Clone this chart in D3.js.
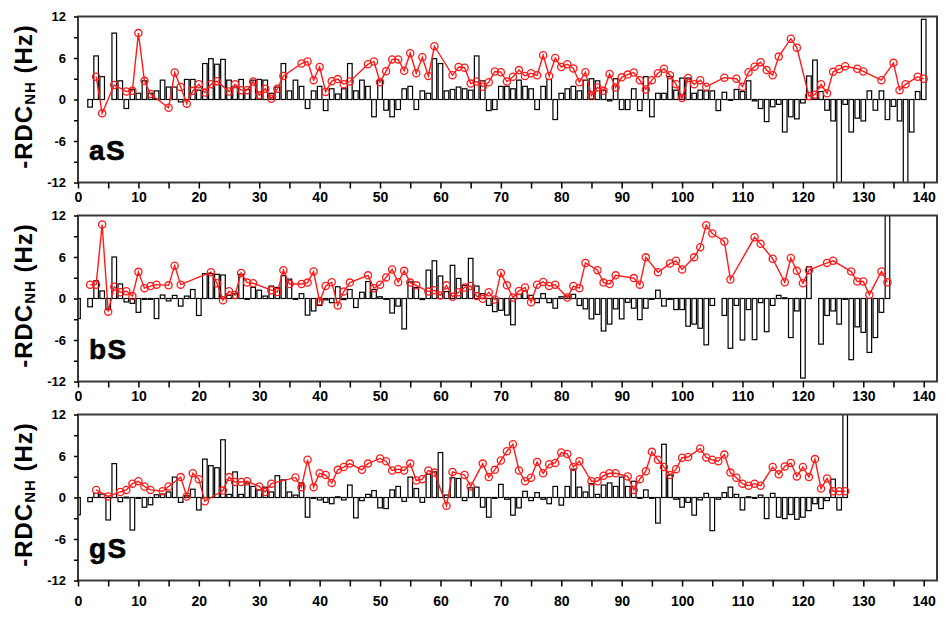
<!DOCTYPE html>
<html><head><meta charset="utf-8">
<script src="https://cdn.jsdelivr.net/npm/d3@7/dist/d3.min.js"></script>
<style>body{margin:0;background:#fff}svg{display:block}text{font-family:"Liberation Sans",Arial,sans-serif}</style>
</head><body>
<svg id="c" width="948" height="620"></svg>
<script>
// ---------- DATA (residue -> value) ----------
const panelNames = ["aS", "bS", "gS"];
const xTicks = [0,10,20,30,40,50,60,70,80,90,100,110,120,130,140];
const yTicks = [-12,-6,0,6,12];

const aS_bars = [[2,-1.1],[3,6.3],[4,3.3],[6,9.6],[7,2.7],[8,-1.3],[9,1.45],[10,0.9],[11,2.7],[12,0.9],[13,1.25],[14,2.8],[15,1.8],[16,1.8],[17,-0.35],[18,2.9],[19,2.9],[20,1.35],[21,5.2],[22,5.9],[23,5.1],[24,5.8],[25,2.8],[26,1.8],[27,2.9],[28,1.45],[29,2.8],[30,2.9],[31,2.8],[32,0.9],[33,1.8],[34,5.2],[35,1.25],[36,2.8],[37,1.9],[38,-1.3],[39,1.25],[40,1.9],[41,-1.6],[42,1.55],[43,0.8],[44,1.55],[45,5.2],[46,1.25],[47,2.8],[48,1.9],[49,-2.5],[50,2.8],[51,-1.55],[52,-2.5],[53,-1.45],[54,1.55],[55,1.9],[56,-1.45],[57,1.25],[58,0.9],[59,5.9],[60,5.2],[61,1.25],[62,1.45],[63,1.8],[64,1.55],[65,1.35],[66,6.3],[67,2.7],[68,-1.6],[69,-1.45],[70,1.9],[71,1.9],[72,1.55],[73,2.8],[74,1.9],[75,1.55],[76,-1.45],[77,1.9],[78,2.9],[79,-2.9],[80,0.9],[81,1.55],[82,1.9],[83,1.25],[84,2.8],[85,3.0],[86,2.7],[87,1.35],[88,-0.2],[89,3.0],[90,-1.45],[91,-1.45],[92,1.55],[93,-1.6],[94,3.3],[95,-2.5],[96,0.9],[97,0.9],[98,3.3],[99,1.35],[100,3.1],[101,3.1],[102,0.9],[103,1.35],[104,1.25],[105,1.25],[106,-1.6],[107,1.05],[108,0],[109,1.45],[110,1.15],[111,2.7],[112,-0.2],[113,-1.3],[114,-3.2],[115,-1.05],[116,-0.7],[117,-4.7],[118,-2.5],[119,-2.8],[120,-0.5],[121,3.4],[122,5.7],[123,1.15],[124,-1.55],[125,-3.1],[126,-12.5],[127,-0.7],[128,-4.7],[129,-2.7],[130,-3.1],[131,1.25],[132,-1.55],[133,1.25],[134,-2.9],[135,-1.0],[136,-3.1],[137,-12.5],[138,-4.7],[139,1.15],[140,11.6]];
const aS_line = [[3,3.3],[4,-2.0],[6,2.1],[8,1.15],[9,1.25],[10,9.6],[11,2.7],[12,0.8],[15,-1.2],[16,3.9],[17,1.8],[18,-0.6],[19,1.25],[20,2.2],[21,1.0],[22,2.2],[23,2.65],[25,1.15],[26,2.2],[27,1.35],[28,1.35],[29,2.6],[30,0.6],[31,1.55],[32,0.1],[33,1.55],[34,3.4],[37,5.2],[38,5.5],[39,2.8],[40,4.7],[41,1.1],[42,2.65],[43,2.95],[44,2.2],[45,2.6],[48,5.1],[49,5.5],[50,2.5],[51,4.1],[52,5.8],[53,5.8],[54,4.15],[55,6.7],[56,3.8],[57,6.1],[58,3.4],[59,7.7],[62,3.5],[63,4.7],[64,4.6],[65,2.3],[66,2.6],[67,1.85],[68,2.5],[69,4.05],[70,3.95],[71,2.6],[72,3.3],[73,4.25],[74,3.4],[75,3.8],[76,3.5],[77,6.4],[78,3.4],[79,6.0],[80,4.7],[81,5.1],[82,4.5],[83,2.5],[84,3.95],[85,0.6],[86,1.75],[87,1.25],[88,3.7],[89,1.75],[90,3.2],[91,3.6],[92,3.9],[93,2.8],[94,1.45],[95,2.8],[96,3.8],[97,4.45],[98,3.5],[99,2.2],[100,0.2],[101,3.1],[102,2.2],[103,2.8],[104,1.85],[107,3.15],[109,3.0],[110,1.85],[111,3.95],[112,4.75],[113,5.4],[114,4.25],[115,3.5],[116,6.2],[118,8.8],[119,7.5],[121,0.5],[122,0.7],[123,2.2],[124,0.9],[125,4.0],[126,4.4],[127,4.8],[129,4.45],[130,4.05],[133,2.8],[135,5.3],[136,1.35],[137,2.2],[139,3.3],[140,3.0]];

const bS_bars = [[0,-2.9],[2,-1.2],[3,2.55],[4,1.1],[5,-1.6],[6,6.0],[7,2.1],[8,-0.5],[9,-0.7],[10,-2.0],[11,0],[12,0],[13,-2.9],[14,0.5],[15,-0.35],[16,0.45],[17,-1.1],[18,0.35],[19,1.3],[20,-2.45],[21,3.6],[22,3.6],[23,3.5],[24,3.4],[25,0.45],[26,0.7],[27,3.5],[28,0],[29,1.6],[30,1.2],[31,0.35],[32,1.8],[33,1.6],[34,3.3],[35,2.8],[36,0],[37,0.7],[38,-2.4],[39,-1.8],[40,-1.0],[41,-0.2],[42,-0.6],[43,1.7],[44,-0.15],[45,1.3],[46,-1.3],[47,0.9],[48,2.45],[49,1.3],[50,0.25],[51,0],[52,-2.1],[53,-1.1],[54,-4.4],[55,2.4],[56,1.6],[57,-0.15],[58,4.1],[59,5.45],[60,3.25],[61,1.0],[62,4.8],[63,2.9],[64,1.9],[65,5.8],[66,1.8],[67,0.7],[68,-1.0],[69,-1.9],[70,-1.7],[71,-2.4],[72,-3.8],[73,0.6],[74,1.1],[75,0.45],[76,-0.6],[77,0.7],[78,-0.6],[79,-1.4],[80,0.25],[81,0.35],[82,0.6],[83,-1.0],[84,-1.5],[85,-2.95],[86,-2.3],[87,-4.7],[88,-3.7],[89,-1.5],[90,-2.95],[91,-0.55],[92,-1.4],[93,-3.05],[94,-1.4],[95,-0.1],[96,1.2],[97,-1.1],[98,-0.1],[99,-1.6],[100,-1.6],[101,-4.0],[102,-3.7],[103,-4.3],[104,-6.7],[105,-1.0],[107,-2.45],[108,-7.2],[109,-1.0],[110,-6.0],[111,-1.6],[112,-5.95],[113,-0.6],[114,-4.8],[115,-1.0],[116,0.45],[117,0.1],[118,-5.65],[119,-1.8],[120,-11.5],[121,4.6],[123,-6.6],[124,-2.45],[125,-1.8],[126,-3.7],[127,0],[128,-8.85],[129,-4.1],[130,-4.9],[131,-7.8],[132,-5.65],[133,-2.0],[134,12.5]];
const bS_line = [[2,2.0],[3,2.0],[4,10.7],[5,-1.9],[6,1.7],[7,0.9],[8,1.05],[9,0.35],[10,3.85],[11,1.5],[12,1.8],[13,2.0],[15,1.9],[16,4.75],[17,2.0],[22,3.8],[23,2.2],[24,-0.25],[25,1.05],[26,0.5],[27,3.7],[28,2.3],[29,2.2],[32,1.2],[33,0.95],[34,4.1],[35,2.1],[37,2.1],[38,2.3],[39,3.9],[40,-0.4],[41,1.8],[42,2.35],[43,-1.0],[44,1.0],[45,2.3],[48,3.35],[49,1.5],[50,2.0],[51,3.05],[52,4.2],[53,2.35],[54,4.0],[55,2.3],[56,1.9],[58,1.0],[59,1.2],[60,0.45],[61,1.9],[62,0.25],[63,0.9],[64,1.6],[65,1.8],[66,0.35],[67,-0.05],[68,0.9],[69,-0.15],[70,3.7],[71,1.9],[72,0.15],[73,1.1],[74,1.6],[75,-0.55],[76,2.0],[77,2.4],[78,1.8],[79,2.0],[81,0.15],[82,1.8],[83,1.5],[84,5.15],[86,4.1],[87,2.3],[88,2.1],[89,3.35],[92,2.95],[93,2.0],[94,5.95],[96,3.8],[98,5.05],[99,5.45],[100,4.2],[102,5.95],[103,7.4],[104,10.6],[105,9.4],[107,8.25],[108,2.75],[112,8.85],[113,7.9],[115,5.75],[117,2.35],[118,5.85],[119,4.0],[120,2.2],[121,4.1],[124,5.15],[125,5.45],[128,3.9],[129,2.45],[130,2.45],[131,0.55],[133,3.9],[134,2.35]];

const gS_bars = [[0,-2.5],[2,-0.6],[3,0.6],[4,0.5],[5,-3.25],[6,4.9],[7,-0.6],[8,0.05],[9,-4.7],[10,0],[11,-1.4],[12,-1.05],[13,0.4],[14,0.5],[15,0.8],[16,2.95],[17,-0.7],[18,0.25],[19,1.2],[20,-1.8],[21,5.55],[22,4.6],[23,4.3],[24,8.35],[25,0.45],[26,3.7],[27,0.45],[28,2.1],[29,1.6],[30,1.1],[31,1.5],[32,0.8],[33,3.15],[34,2.55],[35,0.8],[36,0.35],[37,2.1],[38,-2.85],[39,0],[40,-0.35],[41,-0.7],[42,-0.9],[43,0.1],[44,-0.35],[45,1.8],[46,-2.95],[47,-0.45],[48,0.45],[49,1.0],[50,-1.5],[51,-1.6],[52,1.1],[53,1.6],[54,-0.55],[55,2.95],[56,1.3],[57,-0.7],[58,3.35],[59,3.7],[60,6.5],[61,0.35],[62,2.85],[63,2.75],[64,-0.45],[65,1.4],[66,1.5],[67,-1.4],[68,-2.85],[69,-0.1],[70,1.9],[71,-0.25],[72,-2.55],[73,-1.5],[74,0.9],[75,-0.45],[76,0.7],[77,-0.25],[78,-0.9],[79,1.6],[80,-1.1],[81,1.6],[82,4.1],[83,1.5],[84,0.8],[85,2.0],[86,0.45],[87,1.8],[88,2.1],[89,1.6],[90,2.95],[91,1.6],[92,2.35],[93,0],[94,1.1],[95,0],[96,-3.7],[97,7.7],[98,3.25],[99,-0.25],[100,-1.4],[101,-0.7],[102,-2.55],[103,-0.35],[104,0.6],[105,-4.8],[106,-0.25],[107,0.7],[108,1.5],[109,0.45],[110,-1.8],[111,0.1],[112,0],[113,0.35],[114,-3.05],[115,0.6],[116,-2.85],[117,-3.05],[118,-2.45],[119,-3.15],[120,-2.85],[121,-1.9],[122,-0.9],[123,-1.6],[124,-0.45],[125,2.65],[126,-1.8],[127,12.5]];
const gS_line = [[3,1.1],[5,0.15],[7,0.8],[8,1.1],[9,2.0],[10,2.35],[11,1.6],[12,1.1],[14,0.9],[15,1.6],[17,2.95],[18,0.15],[19,3.5],[20,2.65],[21,-0.55],[24,1.0],[25,2.95],[26,2.25],[27,2.25],[28,2.35],[30,1.6],[31,0.8],[32,2.0],[36,2.9],[37,1.5],[38,5.45],[39,1.5],[40,3.5],[41,3.25],[42,2.1],[43,4.0],[44,4.4],[45,4.9],[47,4.0],[48,4.9],[50,5.65],[51,5.25],[52,3.9],[53,4.1],[54,3.9],[55,4.9],[56,2.45],[57,2.65],[58,3.9],[59,3.6],[61,-1.2],[62,3.7],[64,3.25],[65,1.6],[67,4.9],[68,2.95],[69,4.0],[70,5.35],[71,6.7],[72,7.7],[73,3.9],[74,2.35],[75,2.85],[76,5.15],[77,3.5],[78,4.8],[79,5.0],[80,6.5],[81,6.3],[82,4.4],[83,5.25],[85,2.35],[86,2.35],[87,3.15],[88,3.5],[89,3.5],[91,3.05],[92,1.1],[93,2.65],[94,3.8],[95,6.6],[96,5.45],[97,4.4],[98,3.25],[99,4.1],[100,5.75],[101,5.85],[103,7.1],[104,5.8],[105,5.45],[106,5.25],[107,6.2],[108,3.6],[109,2.85],[110,2.0],[111,1.7],[112,2.0],[113,1.7],[115,4.4],[116,3.35],[117,4.5],[118,5.0],[119,3.05],[120,4.4],[121,2.95],[122,5.55],[123,1.3],[124,2.75],[125,0.9],[126,0.9],[127,0.9]];

const panelBars = [aS_bars, bS_bars, gS_bars];
const panelLines = [aS_line, bS_line, gS_line];

// ---------- LAYOUT ----------
const svg = d3.select("#c");
const left = 78, right = 937;
const panelTops = [16.5, 215.5, 414.5];
const labelPad = [4, 4, 10];
const panelH = 166;
const x = d3.scaleLinear().domain([0, 142.2]).range([left, right]);
const barW = 4.6;

panelNames.forEach((name, i) => {
  const top = panelTops[i], bot = top + panelH;
  const y = d3.scaleLinear().domain([-12, 12]).range([bot, top]);
  const g = svg.append("g");

  const clipId = "clip" + i;
  svg.append("clipPath").attr("id", clipId).append("rect")
    .attr("x", left).attr("y", top).attr("width", right - left).attr("height", panelH);

  // bars
  g.append("g").attr("clip-path", `url(#${clipId})`)
    .selectAll("rect").data(panelBars[i]).join("rect")
    .attr("x", d => x(d[0]) - barW / 2)
    .attr("y", d => y(Math.max(0, d[1])))
    .attr("width", barW)
    .attr("height", d => Math.max(0.8, Math.abs(y(d[1]) - y(0))))
    .attr("fill", "#fff").attr("stroke", "#000").attr("stroke-width", 1.2);

  // line
  const line = d3.line().x(d => x(d[0])).y(d => y(d[1]));
  g.append("path").datum(panelLines[i]).attr("d", line)
    .attr("fill", "none").attr("stroke", "#ff1a1a").attr("stroke-width", 1.4);
  g.selectAll("circle").data(panelLines[i]).join("circle")
    .attr("cx", d => x(d[0])).attr("cy", d => y(d[1])).attr("r", 3.6)
    .attr("fill", "none").attr("stroke", "#ff1a1a").attr("stroke-width", 1.3);

  // frame
  g.append("rect").attr("x", left).attr("y", top).attr("width", right - left).attr("height", panelH)
    .attr("fill", "none").attr("stroke", "#3a3a3a").attr("stroke-width", 2);

  // x axis
  const xMinor = d3.range(0, 141, 5);
  const xa = d3.axisBottom(x).tickValues(xMinor).tickSize(6).tickPadding(labelPad[i])
    .tickFormat(d => xTicks.includes(d) ? d : "");
  const xg = g.append("g").attr("transform", `translate(0,${bot})`).call(xa);
  xg.select(".domain").remove();
  xg.selectAll("line").attr("stroke", "#000").attr("stroke-width", 1.5);
  xg.selectAll("text").attr("font-size", 14).attr("font-weight", "bold").attr("fill", "#000")
    .attr("font-family", "Liberation Sans, Arial, sans-serif");

  // y axis
  const yMinor = d3.range(-12, 13, 3);
  const ya = d3.axisLeft(y).tickValues(yMinor).tickSize(4).tickPadding(8)
    .tickFormat(d => yTicks.includes(d) ? d : "");
  const yg = g.append("g").attr("transform", `translate(${left},0)`).call(ya);
  yg.select(".domain").remove();
  yg.selectAll("line").attr("stroke", "#000").attr("stroke-width", 1.5);
  yg.selectAll("text").attr("font-size", 13).attr("font-weight", "bold").attr("fill", "#000")
    .attr("font-family", "Liberation Sans, Arial, sans-serif");

  // y title
  const t = g.append("text").attr("transform", `translate(32,${top + panelH / 2 - 3}) rotate(-90)`)
    .attr("text-anchor", "middle").attr("font-weight", "bold").attr("font-size", 24)
    .attr("letter-spacing", 1).attr("fill", "#000");
  t.append("tspan").text("-RDC");
  t.append("tspan").attr("font-size", 15).attr("dy", 3).text("NH");
  t.append("tspan").attr("dy", -3).text(" (Hz)");

  // panel label
  g.append("text").attr("x", 89).attr("y", top + 143.5).text(name)
    .attr("font-size", 28).attr("font-weight", "bold").attr("letter-spacing", 1.5)
    .attr("fill", "#000").attr("stroke", "#000").attr("stroke-width", 0.6);
});
</script>
</body></html>
